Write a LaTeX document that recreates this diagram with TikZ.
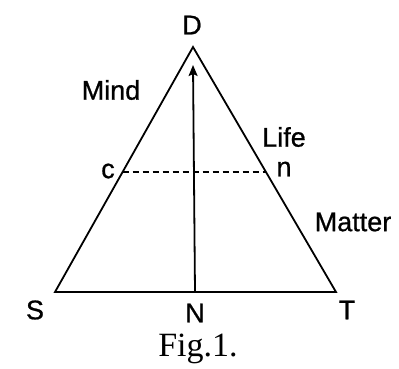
\documentclass[tikz,border=0pt]{standalone}
\usepackage{fontspec}
\setmainfont{Liberation Serif}
\newfontfamily\labelfont[FakeBold=0.8]{Liberation Sans}
\usetikzlibrary{arrows.meta,calc}
\begin{document}
\begin{tikzpicture}[x=1pt,y=-1pt,
  lbl/.style={font=\labelfont\fontsize{27}{32}\selectfont, inner sep=0pt},
  edge/.style={line width=1.8pt, line join=miter},
  dashline/.style={line width=1.3pt, dash pattern=on 6.5pt off 3.5pt},
  caption/.style={font=\fontsize{34}{40}\selectfont, inner sep=0pt}]
\useasboundingbox (0,0) rectangle (399,368);
\coordinate (s) at (55,292);
\coordinate (t) at (336,292);
\coordinate (d) at (193,47);
\coordinate (nb) at (195,292);
\coordinate (tip) at (193,65);
\coordinate (cp) at ($(s)!0.49!(d)$);
\coordinate (np) at ($(t)!0.49!(d)$);
\draw[edge] (s) -- (d) -- (t) -- cycle;
\draw[line width=1.8pt, -{Stealth[length=11pt,width=9pt,inset=2pt]}] (nb) -- (tip);
\draw[dashline] (cp) -- (np);
\node[lbl] (D) at (192,25) {D};
\node[lbl] (S) at (35,310) {S};
\node[lbl] (N) at (195,313) {N};
\node[lbl] (T) at (347,310) {T};
\node[lbl] (c) at (108,171) {c};
\node[lbl] (n) at (284,169) {n};
\node[lbl] (mind) at (111,90) {Mind};
\node[lbl] (life) at (284,137) {Life};
\node[lbl] (matter) at (353,222) {Matter};
\node[caption] (fig) at (198,349) {Fig.1.};
\end{tikzpicture}
\end{document}
